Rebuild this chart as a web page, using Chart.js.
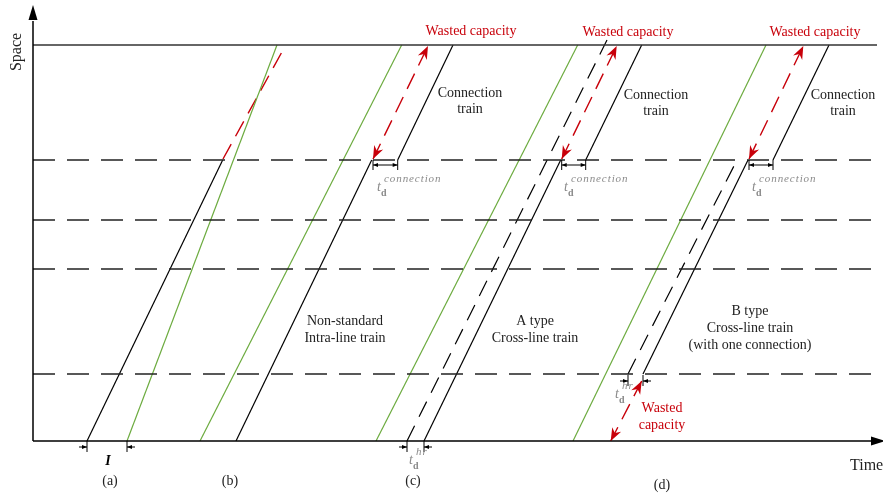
<!DOCTYPE html>
<html>
<head>
<meta charset="utf-8">
<script src="https://cdn.jsdelivr.net/npm/chart.js@4.4.1/dist/chart.umd.min.js"></script>
<style>
  html, body { margin: 0; padding: 0; background: #fff; }
  #wrap { width: 883px; height: 496px; }
</style>
</head>
<body>
<div id="wrap"><canvas id="myChart" width="883" height="496"></canvas></div>
<script>
// Time-space diagram: time on x, space on y (units)
const stations = [67, 172, 221, 281];  // intermediate stations (dashed)
const terminal = 396;                  // terminal station (solid)
const timeEnd = 844;

// trains, each as [time, space] points
const greenA = [[94, 0], [244, 396]];
const blackA = [[54, 0], [189.7, 281]];
const redA = [[190, 282], [250, 391]];

const greenB = [[167, 0], [368.7, 396]];
const blackB = [[203, 0], [338.7, 281]];
const connB = [[364.7, 281], [420, 396]];
const redB = [[340, 282], [395, 395]];

const greenC = [[343, 0], [544.7, 396]];
const dashC = [[374, 0], [574, 401]];
const blackC = [[391, 0], [527.7, 281]];
const connC = [[552.7, 281], [608.7, 396]];
const redC = [[528.7, 282], [583.7, 395]];

const greenD = [[540, 0], [733, 396]];
const dashD = [[595, 67], [704, 281]];
const blackD = [[610, 67], [715, 281]];
const connD = [[740, 281], [796, 396]];
const redD1 = [[716, 282], [770.3, 395]];
const redD2 = [[608.7, 60], [577.7, 0]];

// headway markers: [t1, t2, space]
const inwardGaps = [[54, 94, -6], [374, 391, -6], [595, 610, 60]];
const outwardGaps = [[340, 364.7, 276], [528.7, 552.7, 276], [716, 740, 276]];

const GREEN = "#6cab3f";
const RED = "#c8000a";
const FONT = "'Liberation Serif', 'Times New Roman', serif";

function pts(arr) { return arr.map(p => ({ x: p[0], y: p[1] })); }

function line(arr, color, dash, width) {
  return {
    data: pts(arr),
    showLine: true,
    borderColor: color,
    borderWidth: width || 1.2,
    borderDash: dash || [],
    pointRadius: 0,
    fill: false
  };
}

const datasets = [];
stations.forEach(s => datasets.push(line([[0, s], [timeEnd, s]], "#222", [22, 12], 1.4)));
datasets.push(line([[0, terminal], [timeEnd, terminal]], "#333", [], 1.5));
[greenA, greenB, greenC, greenD].forEach(g => datasets.push(line(g, GREEN)));
[blackA, blackB, connB, blackC, connC, blackD, connD].forEach(b => datasets.push(line(b, "#000")));
[dashC, dashD].forEach(d => datasets.push(line(d, "#000", [17, 10])));
[redA, redB, redC, redD1, redD2].forEach(r => datasets.push(line(r, RED, [17, 9], 1.4)));

// text labels: [text, t, s, color]
const labels = [
  ["Wasted capacity", 438, 410, RED],
  ["Wasted capacity", 595, 409, RED],
  ["Wasted capacity", 782, 409, RED],
  ["Connection", 437, 348], ["train", 437, 332],
  ["Connection", 623, 346], ["train", 623, 330],
  ["Connection", 810, 346], ["train", 810, 330],
  ["Non-standard", 312, 120], ["Intra-line train", 312, 103],
  ["A type", 502, 120], ["Cross-line train", 502, 103],
  ["B type", 717, 130], ["Cross-line train", 717, 113], ["(with one connection)", 717, 96],
  ["Wasted", 629, 33, RED], ["capacity", 629, 16, RED],
  ["(a)", 77, -40], ["(b)", 197, -40], ["(c)", 380, -40], ["(d)", 629, -44]
];
// gray t_d symbols: [t, s, superscript]
const tdLabels = [[344, 256, "connection"], [531, 256, "connection"], [719, 256, "connection"],
                  [376, -17, "hr"], [582, 49, "hr"]];

function arrowHead(ctx, x1, y1, x2, y2, len, w, color, notch) {
  const a = Math.atan2(y2 - y1, x2 - x1);
  ctx.save();
  ctx.fillStyle = color;
  ctx.translate(x2, y2);
  ctx.rotate(a);
  ctx.beginPath();
  ctx.moveTo(0, 0);
  ctx.lineTo(-len, -w / 2);
  ctx.lineTo(-len + (notch || 0), 0);
  ctx.lineTo(-len, w / 2);
  ctx.closePath();
  ctx.fill();
  ctx.restore();
}

const diagram = {
  id: "diagram",
  afterDatasetsDraw(chart) {
    const ctx = chart.ctx;
    const X = v => chart.scales.x.getPixelForValue(v);
    const Y = v => chart.scales.y.getPixelForValue(v);

    // axes
    ctx.save();
    ctx.strokeStyle = "#000";
    ctx.lineWidth = 1.5;
    ctx.beginPath();
    ctx.moveTo(X(0), Y(0));
    ctx.lineTo(X(0), Y(420));
    ctx.moveTo(X(0), Y(0));
    ctx.lineTo(X(840), Y(0));
    ctx.stroke();
    arrowHead(ctx, X(0), Y(400), X(0), Y(436), 15, 9, "#000");
    arrowHead(ctx, X(820), Y(0), X(852), Y(0), 14, 9, "#000");

    // red arrowheads
    [redB, redC, redD1, redD2].forEach(r => {
      const a = r[0], b = r[1];
      arrowHead(ctx, X(a[0]), Y(a[1]), X(b[0]), Y(b[1]), 13, 10, RED, 4);
      arrowHead(ctx, X(b[0]), Y(b[1]), X(a[0]), Y(a[1]), 13, 10, RED, 4);
    });

    // headway markers
    ctx.strokeStyle = "#000";
    ctx.lineWidth = 1;
    inwardGaps.forEach(g => {
      const x1 = X(g[0]), x2 = X(g[1]), y = Y(g[2]);
      ctx.beginPath();
      ctx.moveTo(x1, y - 6); ctx.lineTo(x1, y + 5);
      ctx.moveTo(x2, y - 6); ctx.lineTo(x2, y + 5);
      ctx.moveTo(x1 - 8, y); ctx.lineTo(x1, y);
      ctx.moveTo(x2 + 8, y); ctx.lineTo(x2, y);
      ctx.stroke();
      arrowHead(ctx, x1 - 8, y, x1, y, 5, 4, "#000");
      arrowHead(ctx, x2 + 8, y, x2, y, 5, 4, "#000");
    });
    outwardGaps.forEach(g => {
      const x1 = X(g[0]), x2 = X(g[1]), y = Y(g[2]);
      ctx.beginPath();
      ctx.moveTo(x1, y - 5); ctx.lineTo(x1, y + 5);
      ctx.moveTo(x2, y - 5); ctx.lineTo(x2, y + 5);
      ctx.moveTo(x1, y); ctx.lineTo(x2, y);
      ctx.stroke();
      arrowHead(ctx, x1 + 6, y, x1, y, 5, 4, "#000");
      arrowHead(ctx, x2 - 6, y, x2, y, 5, 4, "#000");
    });

    // texts
    ctx.textAlign = "center";
    ctx.textBaseline = "middle";
    ctx.font = "14px " + FONT;
    labels.forEach(l => {
      ctx.fillStyle = l[3] || "#222";
      ctx.fillText(l[0], X(l[1]), Y(l[2]));
    });
    ctx.font = "bold italic 14px " + FONT;
    ctx.fillStyle = "#000";
    ctx.fillText("I", X(75), Y(-20));

    ctx.textAlign = "left";
    ctx.font = "16px " + FONT;
    ctx.fillStyle = "#222";
    ctx.fillText("Time", X(817), Y(-25));

    ctx.save();
    ctx.translate(X(-16), Y(389));
    ctx.rotate(-Math.PI / 2);
    ctx.textAlign = "center";
    ctx.fillText("Space", 0, 0);
    ctx.restore();

    // gray t_d symbols
    ctx.fillStyle = "#8a8a8a";
    ctx.textAlign = "left";
    tdLabels.forEach(l => {
      const x = X(l[0]), y = Y(l[1]);
      ctx.font = "italic 14px " + FONT;
      ctx.fillText("t", x, y + 2);
      ctx.font = "bold 10px " + FONT;
      ctx.fillText("d", x + 4, y + 8);
      ctx.font = "italic 11px " + FONT;
      ctx.fillText(l[2].split("").join(String.fromCharCode(8202)), x + 7, y - 6);
    });
    ctx.restore();
  }
};

const ctx = document.getElementById("myChart").getContext("2d");
new Chart(ctx, {
  type: "scatter",
  data: { datasets: datasets },
  options: {
    responsive: false,
    animation: false,
    layout: { padding: { left: 33, right: 0, top: 5, bottom: 55 } },
    plugins: { legend: { display: false }, tooltip: { enabled: false } },
    scales: {
      x: { type: "linear", min: 0, max: 850, display: false },
      y: { type: "linear", min: 0, max: 436, display: false }
    }
  },
  plugins: [diagram]
});
</script>
</body>
</html>
